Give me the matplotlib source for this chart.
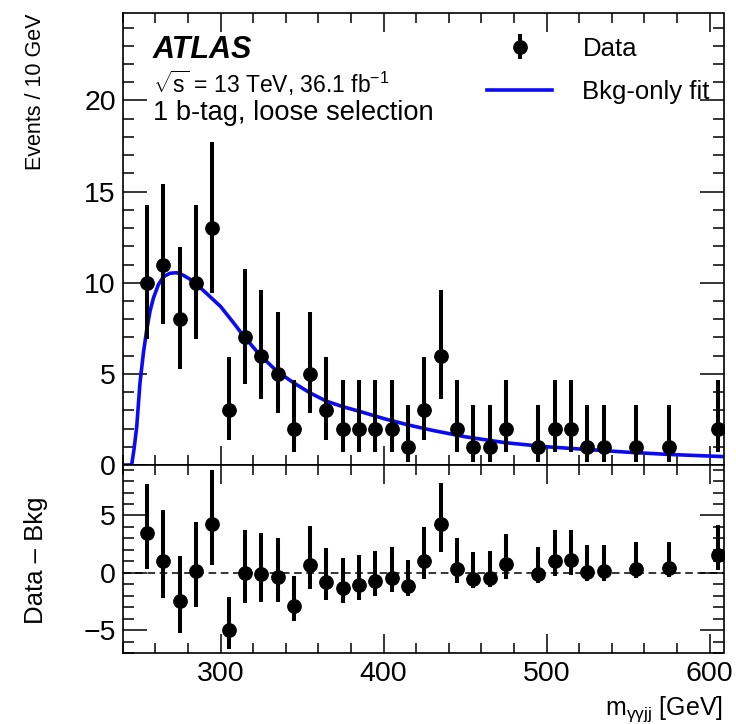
import numpy as np
import matplotlib
matplotlib.use("Agg")
import matplotlib.pyplot as plt
from matplotlib.ticker import MultipleLocator

plt.rcParams['font.family'] = ['Liberation Sans', 'DejaVu Sans']
plt.rcParams['mathtext.fontset'] = 'custom'
plt.rcParams['mathtext.rm'] = 'Liberation Sans'
plt.rcParams['mathtext.it'] = 'Liberation Sans:italic'
plt.rcParams['mathtext.bf'] = 'Liberation Sans:bold'

# bin centres [GeV] of the non-empty 10 GeV bins
mass = [255, 265, 275, 285, 295, 305, 315, 325, 335, 345, 355, 365, 375, 385,
        395, 405, 415, 425, 435, 445, 455, 465, 475, 495, 505, 515, 525, 535,
        555, 575, 605]
counts = [10, 11, 8, 10, 13, 3, 7, 6, 5, 2, 5, 3, 2, 2, 2, 2, 1, 3, 6, 2, 1, 1,
          2, 1, 2, 2, 1, 1, 1, 1, 2]
# asymmetric error bars as drawn
err_lo = [3.11, 3.27, 2.76, 3.11, 3.57, 1.63, 2.58, 2.38, 2.16, 1.29, 2.16,
          1.63, 1.29, 1.29, 1.29, 1.29, 0.83, 1.63, 2.38, 1.29, 0.83, 0.83,
          1.29, 0.83, 1.29, 1.29, 0.83, 0.83, 0.83, 0.83, 1.29]
err_hi = [4.27, 4.42, 3.95, 4.27, 4.70, 2.92, 3.77, 3.58, 3.38, 2.64, 3.38,
          2.92, 2.64, 2.64, 2.64, 2.64, 2.30, 2.92, 3.58, 2.64, 2.30, 2.30,
          2.64, 2.30, 2.64, 2.64, 2.30, 2.30, 2.30, 2.30, 2.64]
resid = [3.47, 1.05, -2.49, 0.14, 4.24, -5.0, -0.06, -0.14, -0.37, -2.88, 0.71,
         -0.79, -1.33, -1.07, -0.76, -0.42, -1.19, 1.05, 4.21, 0.37, -0.51,
         -0.42, 0.76, -0.08, 1.05, 1.13, 0.08, 0.14, 0.37, 0.42, 1.55]

# background-only fit curve
fit_m = [240, 245.5, 247, 248.6, 250.6, 252.7, 254.7, 256.8, 258.8, 261.9, 265,
         269, 273, 277, 283, 291, 300, 308, 314, 324, 334.5, 345, 355, 365,
         375, 385, 400, 415, 430, 450, 475, 500, 525, 550, 575, 608.5]
fit_y = [0, 0, 0.9, 2.1, 4.5, 6.15, 7.4, 8.45, 9.15, 9.9, 10.33, 10.52, 10.55,
         10.42, 10.1, 9.45, 8.7, 7.8, 7.1, 6.05, 5.15, 4.5, 3.95, 3.5, 3.2,
         2.95, 2.55, 2.2, 1.9, 1.55, 1.22, 1.0, 0.85, 0.7, 0.58, 0.46]

W, H = 736, 724
fig = plt.figure(figsize=(W / 100, H / 100), dpi=100)
left, right = 122.7 / W, 723.5 / W
ax = fig.add_axes([left, 1 - 465 / H, right - left, (465 - 13) / H])
axr = fig.add_axes([left, 1 - 653 / H, right - left, (653 - 465) / H], sharex=ax)

ekw = dict(fmt='o', color='black', ms=9.6, elinewidth=2.9, capsize=0)

ax.plot(fit_m, fit_y, color='#0a0af5', lw=2.6, label='Bkg-only fit', zorder=2)
ax.errorbar(mass, counts, yerr=[err_lo, err_hi], label='Data', zorder=3, **ekw)

axr.axhline(0, color='black', ls=(0, (5, 3)), lw=1.1, zorder=1)
axr.errorbar(mass, resid, yerr=[err_lo, err_hi], zorder=3, **ekw)

ax.set_xlim(240, 608.5)
ax.set_ylim(0, 24.8)
axr.set_ylim(-7, 9.4)

for a in (ax, axr):
    a.xaxis.set_major_locator(MultipleLocator(100))
    a.xaxis.set_minor_locator(MultipleLocator(20))
    a.yaxis.set_major_locator(MultipleLocator(5))
    a.yaxis.set_minor_locator(MultipleLocator(1))
    a.tick_params(which='both', direction='in', top=True, right=True,
                  labelsize=20.5, width=1.1)
    a.tick_params(axis='x', which='major', length=14, pad=6)
    a.tick_params(axis='x', which='minor', length=7)
    a.tick_params(axis='y', which='major', length=17, pad=5)
    a.tick_params(axis='y', which='minor', length=8)
    for s in a.spines.values():
        s.set_linewidth(1.2)
ax.tick_params(labelbottom=False)

fig.text(36 / W, 1 - 14 / H, 'Events / 10 GeV', rotation=90, ha='center',
         va='top', fontsize=15.5)
fig.text(36 / W, 1 - 560 / H, 'Data \u2013 Bkg', rotation=90, ha='center',
         va='center', fontsize=18.5)
fig.text(right, 0.0, r'm$_{\mathregular{\gamma\gamma jj}}$ [GeV]', ha='right',
         va='bottom', fontsize=18)

ax.text(0.05, 0.918, 'ATLAS', transform=ax.transAxes, fontsize=22,
        fontweight='bold', fontstyle='italic', va='center')
ax.text(0.05, 0.845, r'$\sqrt{\mathrm{s}}$ = 13 TeV, 36.1 fb$^{-1}$',
        transform=ax.transAxes, fontsize=16.5, va='center')
ax.text(0.05, 0.779, '1 b-tag, loose selection', transform=ax.transAxes,
        fontsize=19.6, va='center')

h, l = ax.get_legend_handles_labels()
ax.legend([h[1], h[0]], [l[1], l[0]], loc='upper left',
          bbox_to_anchor=(0.607, 0.948), frameon=False, fontsize=18.5,
          handlelength=2.5, handletextpad=1.2, labelspacing=0.75,
          borderpad=0, borderaxespad=0)

fig.savefig('out.png', dpi=100)
